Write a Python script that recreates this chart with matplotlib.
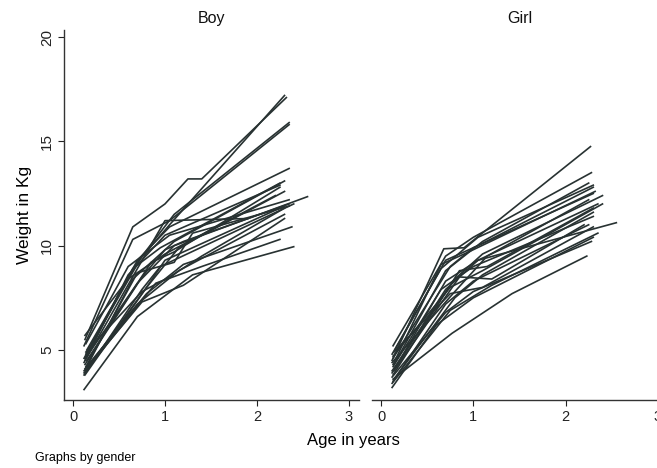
import matplotlib
matplotlib.use("Agg")
import matplotlib.pyplot as plt

plt.rcParams['font.family'] = ['Liberation Sans', 'DejaVu Sans']

panel_titles = ["Boy", "Girl"]
x_ticks = [0, 1, 2, 3]
y_ticks = [5, 10, 15, 20]

boy_ages = [
    [0.13, 0.65, 1.0, 1.25, 1.4, 2.32],
    [0.12, 0.65, 1.05, 2.35],
    [0.15, 0.7, 1.05, 2.3],
    [0.14, 0.75, 1.1, 2.35],
    [0.12, 0.7, 1.05, 2.35],
    [0.13, 0.6, 1.0, 2.25],
    [0.15, 0.65, 1.1, 2.3],
    [0.12, 0.7, 1.0, 1.9],
    [0.14, 0.8, 1.15, 2.3],
    [0.13, 0.75, 1.0, 1.2, 2.35],
    [0.12, 0.75, 0.95, 2.4],
    [0.15, 0.7, 1.1, 2.55],
    [0.13, 0.8, 1.2, 2.38],
    [0.12, 0.9, 1.4, 2.25],
    [0.12, 0.7, 1.3, 2.4],
    [0.14, 0.75, 1.05, 1.4, 2.3],
    [0.13, 0.6, 1.0, 2.2],
    [0.15, 0.85, 1.1, 2.25],
    [0.12, 0.7, 1.15, 2.3],
    [0.14, 0.6, 1.05, 2.35],
    [0.13, 0.8, 1.0, 2.3],
    [0.2, 0.75, 1.2, 2.3],
    [0.13, 0.65, 0.95, 2.25],
    [0.14, 0.7, 1.1, 1.3, 2.35],
]
boy_weights = [
    [5.5, 10.9, 12.0, 13.2, 13.2, 17.1],
    [5.2, 10.3, 11.2, 15.8],
    [5.0, 9.2, 11.0, 17.2],
    [4.8, 9.5, 11.5, 15.9],
    [4.6, 9.3, 10.9, 13.7],
    [4.5, 8.6, 10.5, 12.9],
    [4.2, 8.4, 10.2, 13.1],
    [4.4, 8.9, 11.2, 11.3],
    [4.0, 8.0, 9.9, 12.6],
    [4.3, 8.5, 9.8, 10.2, 12.0],
    [3.8, 7.9, 9.0, 12.0],
    [4.7, 8.2, 10.0, 12.35],
    [4.1, 7.7, 9.1, 10.9],
    [3.9, 8.2, 9.0, 10.3],
    [3.1, 6.6, 8.6, 9.95],
    [4.9, 7.8, 8.5, 9.5, 11.8],
    [5.7, 8.4, 9.6, 12.4],
    [4.5, 9.2, 9.7, 12.8],
    [4.0, 7.2, 8.8, 11.5],
    [5.3, 9.0, 10.5, 12.2],
    [3.8, 8.0, 9.3, 11.9],
    [4.4, 7.3, 8.1, 11.3],
    [4.6, 8.9, 9.9, 13.0],
    [4.2, 8.7, 9.2, 10.6, 11.9],
]

girl_ages = [
    [0.12, 0.68, 0.9, 2.27],
    [0.13, 0.7, 1.0, 2.28],
    [0.12, 0.65, 1.05, 2.3],
    [0.14, 0.7, 1.1, 2.25],
    [0.13, 0.75, 1.0, 2.3],
    [0.12, 0.8, 1.1, 2.4],
    [0.15, 0.7, 1.05, 2.35],
    [0.13, 0.85, 1.15, 2.3],
    [0.12, 0.7, 1.05, 2.55],
    [0.14, 0.8, 1.1, 2.3],
    [0.13, 0.7, 1.0, 2.25],
    [0.12, 0.75, 1.2, 2.35],
    [0.13, 0.77, 1.42, 2.23],
    [0.12, 0.6, 1.0, 2.3],
    [0.14, 0.75, 1.1, 2.3],
    [0.13, 0.65, 1.0, 2.3],
    [0.12, 0.8, 1.15, 2.25],
    [0.15, 0.7, 1.05, 2.3],
    [0.13, 0.75, 1.1, 2.4],
    [0.12, 0.7, 1.0, 2.28],
    [0.14, 0.85, 1.2, 2.2],
    [0.13, 0.65, 0.95, 2.32],
]
girl_weights = [
    [4.5, 9.85, 9.9, 14.75],
    [5.2, 9.5, 10.4, 13.5],
    [4.8, 8.9, 10.4, 12.9],
    [4.3, 8.8, 10.2, 13.0],
    [4.6, 9.0, 9.9, 12.5],
    [4.0, 8.4, 9.6, 12.4],
    [4.1, 8.3, 9.3, 12.0],
    [3.8, 8.8, 9.0, 11.8],
    [3.9, 7.9, 9.3, 11.1],
    [3.6, 7.5, 8.6, 11.6],
    [3.5, 7.2, 8.3, 11.0],
    [3.4, 6.9, 8.1, 10.6],
    [3.6, 5.8, 7.7, 9.5],
    [3.2, 6.2, 7.5, 10.4],
    [4.9, 7.7, 8.0, 10.9],
    [4.2, 7.9, 9.0, 11.4],
    [4.4, 7.8, 9.5, 12.2],
    [5.0, 9.3, 10.0, 12.8],
    [4.7, 8.0, 8.8, 12.0],
    [3.7, 6.8, 7.8, 10.2],
    [4.0, 8.5, 8.4, 11.0],
    [4.3, 9.1, 9.7, 12.6],
]

W, H = 657, 468
fig = plt.figure(figsize=(W / 100, H / 100), dpi=100)

def px_axes(x0, x1, ytop, ybot):
    return fig.add_axes([x0 / W, 1 - ybot / H, (x1 - x0) / W, (ybot - ytop) / H])

ax_b = px_axes(64, 359, 30, 400)
ax_g = px_axes(372, 668, 30, 400)

line_color = "#283232"
for ax, ages, weights, title in [(ax_b, boy_ages, boy_weights, panel_titles[0]),
                                  (ax_g, girl_ages, girl_weights, panel_titles[1])]:
    for a, w in zip(ages, weights):
        ax.plot(a, w, color=line_color, lw=1.2)
    ax.set_xlim(-0.098, 3.11)
    ax.set_ylim(2.6, 20.34)
    ax.set_xticks(x_ticks)
    ax.set_xticklabels([str(t) for t in x_ticks], fontsize=10.5)
    ax.spines['top'].set_visible(False)
    ax.spines['right'].set_visible(False)
    ax.spines['bottom'].set_color('#333333')
    ax.spines['left'].set_color('#333333')
    ax.spines['bottom'].set_linewidth(1.0)
    ax.spines['left'].set_linewidth(1.0)
    ax.tick_params(axis='x', direction='out', length=4, width=0.8, pad=3, colors='#222222')
    ax.set_title(title, fontsize=11.5, pad=5, color='#111111')
    ax.set_facecolor('white')

ax_b.set_yticks(y_ticks)
ax_b.set_yticklabels([str(t) for t in y_ticks], fontsize=11, rotation=90, va='center')
ax_b.tick_params(axis='y', direction='out', length=4, width=0.8, pad=3, colors='#222222')
ax_b.set_ylabel("Weight in Kg", fontsize=12.5, labelpad=6)

ax_g.spines['left'].set_visible(False)
ax_g.set_yticks([])

fig.text(353 / W, 1 - 440 / H, "Age in years", ha='center', va='center', fontsize=12)
fig.text(35 / W, 1 - 458 / H, "Graphs by gender", ha='left', va='center', fontsize=9)

fig.savefig("out.png", dpi=100, facecolor='white')
